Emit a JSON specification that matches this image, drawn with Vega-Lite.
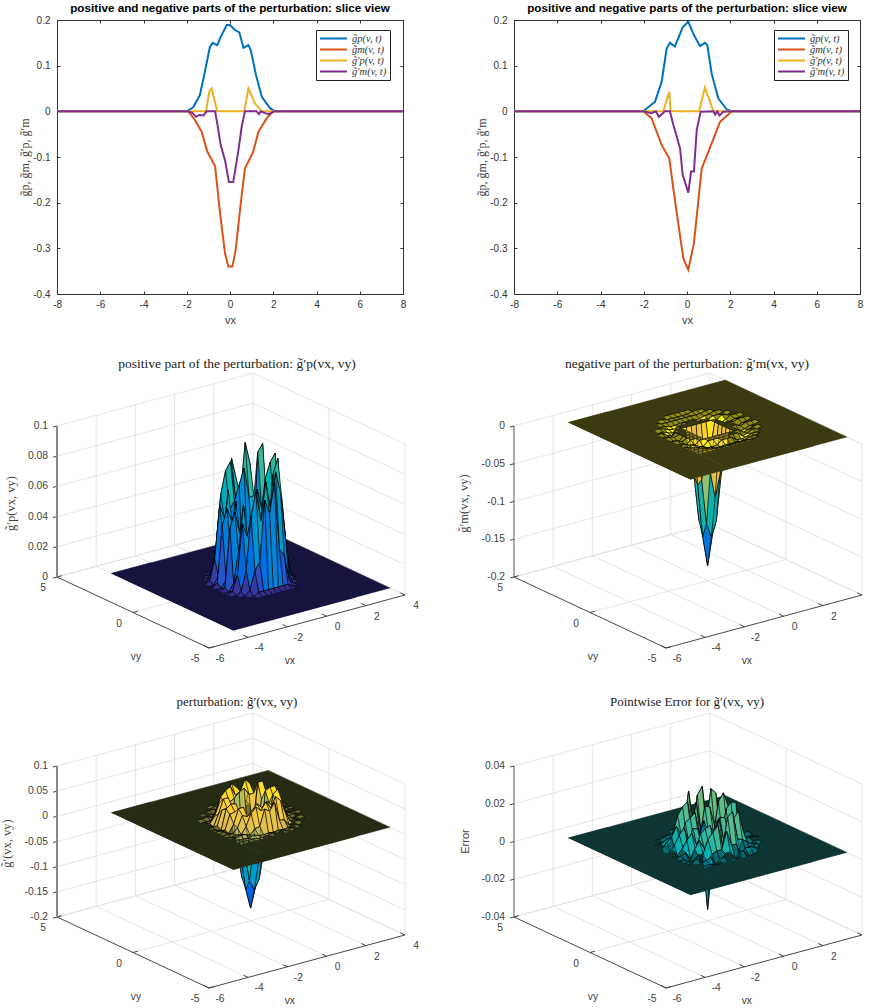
{"$schema":"https://vega.github.io/schema/vega-lite/v6.json","padding":{"left":0,"top":3,"right":0,"bottom":0},"background":"white","config":{"view":{"stroke":null},"text":{"font":"Liberation Sans"}},
"resolve":{"scale":{"fill":"independent","stroke":"independent","color":"independent"}},
"datasets":{
"sl":[{"s":"p","vx":-8,"v":0},{"s":"p","vx":-2,"v":0},{"s":"p","vx":-1.7,"v":0.009},{"s":"p","vx":-1.39,"v":0.036},{"s":"p","vx":-1.16,"v":0.087},{"s":"p","vx":-0.93,"v":0.141},{"s":"p","vx":-0.8,"v":0.15},{"s":"p","vx":-0.59,"v":0.145},{"s":"p","vx":-0.43,"v":0.163},{"s":"p","vx":-0.15,"v":0.189},{"s":"p","vx":0,"v":0.189},{"s":"p","vx":0.23,"v":0.178},{"s":"p","vx":0.43,"v":0.173},{"s":"p","vx":0.62,"v":0.139},{"s":"p","vx":0.85,"v":0.145},{"s":"p","vx":0.96,"v":0.134},{"s":"p","vx":1.2,"v":0.08},{"s":"p","vx":1.47,"v":0.032},{"s":"p","vx":1.85,"v":0.007},{"s":"p","vx":2.08,"v":0},{"s":"p","vx":8,"v":0},
{"s":"m","vx":-8,"v":0},{"s":"m","vx":-1.93,"v":0},{"s":"m","vx":-1.62,"v":-0.019},{"s":"m","vx":-1.31,"v":-0.045},{"s":"m","vx":-1.05,"v":-0.088},{"s":"m","vx":-0.69,"v":-0.12},{"s":"m","vx":-0.46,"v":-0.223},{"s":"m","vx":-0.23,"v":-0.311},{"s":"m","vx":-0.08,"v":-0.34},{"s":"m","vx":0.11,"v":-0.34},{"s":"m","vx":0.26,"v":-0.304},{"s":"m","vx":0.49,"v":-0.205},{"s":"m","vx":0.69,"v":-0.125},{"s":"m","vx":1.08,"v":-0.088},{"s":"m","vx":1.31,"v":-0.045},{"s":"m","vx":1.7,"v":-0.015},{"s":"m","vx":2,"v":0},{"s":"m","vx":8,"v":0},
{"s":"pp","vx":-8,"v":0},{"s":"pp","vx":-1.11,"v":0},{"s":"pp","vx":-0.96,"v":0.043},{"s":"pp","vx":-0.85,"v":0.05},{"s":"pp","vx":-0.59,"v":0},{"s":"pp","vx":0.66,"v":0},{"s":"pp","vx":0.85,"v":0.05},{"s":"pp","vx":1.16,"v":0.017},{"s":"pp","vx":1.47,"v":0},{"s":"pp","vx":8,"v":0},
{"s":"mp","vx":-8,"v":0},{"s":"mp","vx":-1.93,"v":0},{"s":"mp","vx":-1.73,"v":-0.004},{"s":"mp","vx":-1.57,"v":-0.012},{"s":"mp","vx":-1.42,"v":-0.008},{"s":"mp","vx":-1.23,"v":-0.009},{"s":"mp","vx":-1.08,"v":0},{"s":"mp","vx":-0.69,"v":0},{"s":"mp","vx":-0.59,"v":-0.026},{"s":"mp","vx":-0.43,"v":-0.074},{"s":"mp","vx":-0.23,"v":-0.107},{"s":"mp","vx":-0.05,"v":-0.155},{"s":"mp","vx":0.15,"v":-0.155},{"s":"mp","vx":0.39,"v":-0.085},{"s":"mp","vx":0.54,"v":-0.034},{"s":"mp","vx":0.69,"v":0},{"s":"mp","vx":1.23,"v":0},{"s":"mp","vx":1.34,"v":-0.006},{"s":"mp","vx":1.42,"v":0},{"s":"mp","vx":1.62,"v":-0.004},{"s":"mp","vx":1.8,"v":-0.006},{"s":"mp","vx":2.04,"v":0},{"s":"mp","vx":8,"v":0}],
"sr":[{"s":"p","vx":-8,"v":0},{"s":"p","vx":-2.02,"v":0},{"s":"p","vx":-1.48,"v":0.021},{"s":"p","vx":-1.17,"v":0.065},{"s":"p","vx":-0.94,"v":0.138},{"s":"p","vx":-0.79,"v":0.15},{"s":"p","vx":-0.56,"v":0.142},{"s":"p","vx":-0.2,"v":0.184},{"s":"p","vx":0.06,"v":0.196},{"s":"p","vx":0.32,"v":0.167},{"s":"p","vx":0.6,"v":0.143},{"s":"p","vx":0.83,"v":0.15},{"s":"p","vx":0.94,"v":0.145},{"s":"p","vx":1.14,"v":0.083},{"s":"p","vx":1.45,"v":0.028},{"s":"p","vx":1.84,"v":0.004},{"s":"p","vx":2.07,"v":0},{"s":"p","vx":8,"v":0},
{"s":"m","vx":-8,"v":0},{"s":"m","vx":-2.02,"v":0},{"s":"m","vx":-1.64,"v":-0.015},{"s":"m","vx":-1.17,"v":-0.074},{"s":"m","vx":-0.82,"v":-0.103},{"s":"m","vx":-0.56,"v":-0.194},{"s":"m","vx":-0.17,"v":-0.322},{"s":"m","vx":0.06,"v":-0.347},{"s":"m","vx":0.32,"v":-0.289},{"s":"m","vx":0.68,"v":-0.125},{"s":"m","vx":0.99,"v":-0.088},{"s":"m","vx":1.53,"v":-0.023},{"s":"m","vx":2.07,"v":0},{"s":"m","vx":8,"v":0},
{"s":"pp","vx":-8,"v":0},{"s":"pp","vx":-1.1,"v":0},{"s":"pp","vx":-0.82,"v":0.043},{"s":"pp","vx":-0.76,"v":0},{"s":"pp","vx":0.56,"v":0},{"s":"pp","vx":0.83,"v":0.052},{"s":"pp","vx":1.22,"v":0},{"s":"pp","vx":8,"v":0},
{"s":"mp","vx":-8,"v":0},{"s":"mp","vx":-2.02,"v":0},{"s":"mp","vx":-1.64,"v":-0.004},{"s":"mp","vx":-1.44,"v":0},{"s":"mp","vx":-1.3,"v":-0.012},{"s":"mp","vx":-1.02,"v":0},{"s":"mp","vx":-0.79,"v":0},{"s":"mp","vx":-0.63,"v":-0.03},{"s":"mp","vx":-0.32,"v":-0.081},{"s":"mp","vx":-0.2,"v":-0.139},{"s":"mp","vx":0.06,"v":-0.178},{"s":"mp","vx":0.19,"v":-0.132},{"s":"mp","vx":0.32,"v":-0.132},{"s":"mp","vx":0.45,"v":-0.041},{"s":"mp","vx":0.63,"v":-0.001},{"s":"mp","vx":1.22,"v":0},{"s":"mp","vx":1.3,"v":-0.007},{"s":"mp","vx":1.4,"v":0},{"s":"mp","vx":1.5,"v":-0.009},{"s":"mp","vx":1.68,"v":-0.001},{"s":"mp","vx":2.07,"v":0},{"s":"mp","vx":8,"v":0}],
"frame":[{"t":"g","x":-4,"y":5,"x2":-4,"y2":5,"h2":1},{"t":"g","x":-2,"y":5,"x2":-2,"y2":5,"h2":1},{"t":"g","x":0,"y":5,"x2":0,"y2":5,"h2":1},{"t":"g","x":2,"y":5,"x2":2,"y2":5,"h2":1},{"t":"g","x":4,"y":5,"x2":4,"y2":5,"h2":1},{"t":"g","x":4,"y":0,"x2":4,"y2":0,"h2":1},{"t":"g","x":4,"y":-5,"x2":4,"y2":-5,"h2":1},{"t":"g","x":-4,"y":5,"x2":-4,"y2":-5},{"t":"g","x":-2,"y":5,"x2":-2,"y2":-5},{"t":"g","x":0,"y":5,"x2":0,"y2":-5},{"t":"g","x":2,"y":5,"x2":2,"y2":-5},{"t":"g","x":4,"y":5,"x2":4,"y2":-5},{"t":"g","x":-6,"y":5,"x2":4,"y2":5},{"t":"g","x":-6,"y":0,"x2":4,"y2":0},{"t":"a","x":-6,"y":5,"x2":-6,"y2":-5},{"t":"a","x":-6,"y":-5,"x2":4,"y2":-5},{"t":"a","x":-6,"y":-5,"x2":-6,"y2":-4.7},{"t":"a","x":-4,"y":-5,"x2":-4,"y2":-4.7},{"t":"a","x":-2,"y":-5,"x2":-2,"y2":-4.7},{"t":"a","x":0,"y":-5,"x2":0,"y2":-4.7},{"t":"a","x":2,"y":-5,"x2":2,"y2":-4.7},{"t":"a","x":4,"y":-5,"x2":4,"y2":-4.7},{"t":"a","x":-6,"y":5,"x2":-5.75,"y2":5},{"t":"a","x":-6,"y":0,"x2":-5.75,"y2":0},{"t":"a","x":-6,"y":-5,"x2":-5.75,"y2":-5},{"t":"z","x":-6,"y":5,"x2":-6,"y2":5,"h2":1}],
"zt":[{"q":"p","h":0,"l":"0"},{"q":"p","h":0.2,"l":"0.02"},{"q":"p","h":0.4,"l":"0.04"},{"q":"p","h":0.6,"l":"0.06"},{"q":"p","h":0.8,"l":"0.08"},{"q":"p","h":1,"l":"0.1"},{"q":"m","h":1,"l":"0"},{"q":"m","h":0.75,"l":"-0.05"},{"q":"m","h":0.5,"l":"-0.1"},{"q":"m","h":0.25,"l":"-0.15"},{"q":"m","h":0,"l":"-0.2"},{"q":"g","h":0,"l":"-0.2"},{"q":"g","h":0.1667,"l":"-0.15"},{"q":"g","h":0.3333,"l":"-0.1"},{"q":"g","h":0.5,"l":"-0.05"},{"q":"g","h":0.6667,"l":"0"},{"q":"g","h":0.8333,"l":"0.05"},{"q":"g","h":1,"l":"0.1"},{"q":"e","h":0,"l":"-0.04"},{"q":"e","h":0.25,"l":"-0.02"},{"q":"e","h":0.5,"l":"0"},{"q":"e","h":0.75,"l":"0.02"},{"q":"e","h":1,"l":"0.04"}],
"lab":[{"a":"x","x":-6,"y":-5,"t":"-6"},{"a":"x","x":-4,"y":-5,"t":"-4"},{"a":"x","x":-2,"y":-5,"t":"-2"},{"a":"x","x":0,"y":-5,"t":"0"},{"a":"x","x":2,"y":-5,"t":"2"},{"a":"x","x":4,"y":-5,"t":"4"},{"a":"y","x":-6,"y":5,"t":"5"},{"a":"y","x":-6,"y":0,"t":"0"},{"a":"y","x":-6,"y":-5,"t":"-5"},{"a":"x","x":-3.88,"y":-6.86,"t":"vx"},{"a":"y","x":-7.77,"y":-3.4,"t":"vy"}],
"plane":[{"s":0,"g":"A","n":0,"x":-4,"y":-4},{"s":0,"g":"A","n":1,"x":4,"y":-4},{"s":0,"g":"A","n":2,"x":4,"y":4},{"s":0,"g":"A","n":3,"x":-4,"y":4},{"s":1,"g":"B","n":0,"x":-4,"y":-4},{"s":1,"g":"B","n":1,"x":-2,"y":-4},{"s":1,"g":"B","n":2,"x":-2,"y":4},{"s":1,"g":"B","n":3,"x":-4,"y":4},{"s":1,"g":"C","n":0,"x":-2,"y":-4},{"s":1,"g":"C","n":1,"x":2.25,"y":-4},{"s":1,"g":"C","n":2,"x":2.25,"y":-2},{"s":1,"g":"C","n":3,"x":-2,"y":-2}],
"surf":[{"k":1610,"m":-0.002,"g":-0.002,"e":0.002},{"k":1608,"m":-0.002,"g":0.001,"e":-0.002},{"k":1606,"m":-0.002,"g":-0.001,"e":0.001},
{"k":1512,"m":-0.002,"g":-0.002,"e":0.002},{"k":1510,"m":-0.002,"g":0.002,"e":-0.002},{"k":1508,"m":-0.003,"g":-0.002,"e":0.002},{"k":1506,"m":-0.002,"g":0.002,"e":0.001},{"k":1504,"m":-0.002,"g":-0.002,"e":-0.002},
{"k":1413,"m":-0.002,"g":-0.002,"e":0.002},{"k":1411,"p":0.002,"m":-0.004,"g":-0.002,"e":0.003},{"k":1410,"m":-0.005,"g":-0.005,"e":-0.002},{"k":1409,"p":0.003,"m":-0.002,"g":0.001,"e":0.004},{"k":1408,"m":-0.006,"g":-0.005,"e":-0.003},{"k":1407,"p":0.002,"m":-0.003,"g":-0.001,"e":0.003},{"k":1406,"m":-0.005,"g":-0.004,"e":0.002},{"k":1405,"p":0.002,"m":-0.003,"g":-0.001,"e":-0.002},{"k":1403,"m":-0.002,"g":0.002,"e":0.002},
{"k":1314,"m":-0.002,"g":-0.002,"e":0.001},{"k":1313,"m":-0.002,"g":0.002,"e":-0.002},{"k":1312,"p":0.002,"m":-0.005,"g":-0.003,"e":0.003},{"k":1311,"p":0.02,"m":-0.007,"g":0.01,"e":0.007},{"k":1310,"p":0.03,"m":-0.004,"g":0.02,"e":-0.004},{"k":1309,"p":0.06,"g":0.045,"e":0.016},{"k":1308,"p":0.08,"g":0.055,"e":0.004},{"k":1307,"p":0.055,"g":0.04,"e":0.02},{"k":1306,"p":0.025,"m":-0.006,"g":0.015,"e":-0.003},{"k":1305,"p":0.02,"m":-0.005,"g":0.01,"e":0.006},{"k":1304,"p":0.002,"m":-0.004,"g":-0.002,"e":0.002},{"k":1303,"m":-0.002,"g":0.002,"e":-0.002},{"k":1302,"m":-0.002,"g":-0.002,"e":0.001},
{"k":1215,"m":-0.002,"g":0.002,"e":0.002},{"k":1214,"m":-0.003,"g":-0.002,"e":-0.001},{"k":1213,"p":0.003,"m":-0.005,"g":-0.002,"e":0.003},{"k":1212,"p":0.025,"m":-0.007,"g":0.015,"e":0.008},{"k":1211,"p":0.06,"g":0.05,"e":0.022},{"k":1210,"p":0.085,"g":0.06,"e":0.003},{"k":1209,"p":0.05,"g":0.04,"e":0.024},{"k":1208,"p":0.075,"g":0.055,"e":0.006},{"k":1207,"p":0.05,"g":0.035,"e":0.021},{"k":1206,"p":0.08,"g":0.058,"e":-0.002},{"k":1205,"p":0.055,"g":0.04,"e":0.018},{"k":1204,"p":0.03,"m":-0.006,"g":0.018,"e":0.004},{"k":1203,"p":0.003,"m":-0.005,"g":-0.002,"e":-0.002},{"k":1202,"m":-0.002,"g":0.002,"e":0.002},{"k":1201,"m":-0.002,"g":-0.002,"e":-0.001},
{"k":1115,"m":-0.002,"g":-0.002,"e":0.001},{"k":1114,"p":0.002,"m":-0.005,"g":-0.003,"e":-0.002},{"k":1113,"p":0.02,"m":-0.006,"g":0.012,"e":0.006},{"k":1112,"p":0.07,"g":0.05,"e":0.004},{"k":1111,"p":0.05,"g":0.035,"e":0.025},{"k":1110,"p":0.08,"g":0.06,"e":0.006},{"k":1109,"p":0.045,"g":0.03,"e":0.02},{"k":1108,"p":0.065,"g":0.05,"e":0.003},{"k":1107,"p":0.04,"g":0.03,"e":0.018},{"k":1106,"p":0.07,"g":0.05,"e":0.002},{"k":1105,"p":0.045,"g":0.035,"e":0.015},{"k":1104,"p":0.06,"g":0.045,"e":0.005},{"k":1103,"p":0.02,"m":-0.006,"g":0.01,"e":-0.003},{"k":1102,"p":0.002,"m":-0.004,"g":-0.002,"e":0.002},{"k":1101,"m":-0.002,"g":0.002,"e":-0.001},
{"k":1016,"m":-0.002,"g":-0.001,"e":0.001},{"k":1015,"m":-0.002,"g":0.002,"e":-0.002},{"k":1014,"p":0.002,"m":-0.005,"g":-0.003,"e":0.003},{"k":1013,"p":0.03,"m":-0.005,"g":0.02,"e":0.007},{"k":1012,"p":0.085,"g":0.062,"e":0.026},{"k":1011,"p":0.05,"g":0.035,"e":0.005},{"k":1010,"p":0.008,"m":-0.04,"g":-0.03,"e":0.017},{"k":1009,"m":-0.06,"g":-0.055,"e":0.004},{"k":1008,"m":-0.07,"g":-0.065,"e":0.012},{"k":1007,"m":-0.06,"g":-0.055,"e":0.002},{"k":1006,"p":0.008,"m":-0.04,"g":-0.03,"e":0.015},{"k":1005,"p":0.05,"g":0.035,"e":0.005},{"k":1004,"p":0.075,"g":0.055,"e":0.02},{"k":1003,"p":0.025,"m":-0.005,"g":0.012,"e":0.004},{"k":1002,"p":0.002,"m":-0.005,"g":-0.003,"e":-0.002},{"k":1001,"m":-0.002,"g":-0.002,"e":0.002},{"k":1000,"m":-0.002,"g":0.001,"e":-0.001},
{"k":916,"m":-0.002,"g":0.002,"e":-0.001},{"k":915,"m":-0.002,"g":-0.002,"e":0.002},{"k":914,"p":0.003,"m":-0.004,"g":-0.002,"e":0.002},{"k":913,"p":0.06,"g":0.045,"e":0.005},{"k":912,"p":0.05,"g":0.04,"e":0.022},{"k":911,"p":0.07,"g":0.05,"e":0.003},{"k":910,"p":0.006,"m":-0.05,"g":-0.04,"e":0.018},{"k":909,"m":-0.12,"g":-0.115,"e":0.004},{"k":908,"m":-0.14,"g":-0.135,"e":-0.008},{"k":907,"m":-0.12,"g":-0.115,"e":0.006},{"k":906,"p":0.006,"m":-0.055,"g":-0.045,"e":0.016},{"k":905,"p":0.06,"g":0.045,"e":0.004},{"k":904,"p":0.05,"g":0.035,"e":0.018},{"k":903,"p":0.07,"g":0.05,"e":0.004},{"k":902,"p":0.002,"m":-0.004,"g":-0.002,"e":-0.002},{"k":901,"m":-0.002,"g":0.002,"e":0.002},{"k":900,"m":-0.002,"g":-0.002,"e":-0.001},
{"k":816,"m":-0.002,"g":-0.001,"e":0.002},{"k":815,"m":-0.002,"g":0.002,"e":-0.002},{"k":814,"p":0.002,"m":-0.005,"g":-0.003,"e":0.003},{"k":813,"p":0.075,"g":0.055,"e":0.024},{"k":812,"p":0.05,"g":0.035,"e":0.005},{"k":811,"p":0.06,"g":0.045,"e":0.02},{"k":810,"m":-0.085,"g":-0.08,"e":0.003},{"k":809,"m":-0.14,"g":-0.135,"e":0.012},{"k":808,"m":-0.18,"g":-0.175,"e":-0.034},{"k":807,"m":-0.14,"g":-0.135,"e":0.01},{"k":806,"m":-0.085,"g":-0.08,"e":0.002},{"k":805,"p":0.05,"g":0.035,"e":0.017},{"k":804,"p":0.07,"g":0.05,"e":0.003},{"k":803,"p":0.05,"g":0.035,"e":0.012},{"k":802,"p":0.002,"m":-0.005,"g":-0.003,"e":0.002},{"k":801,"m":-0.002,"g":-0.002,"e":-0.002},{"k":800,"m":-0.002,"g":0.002,"e":0.001},
{"k":716,"m":-0.002,"g":0.002,"e":-0.001},{"k":715,"m":-0.002,"g":-0.002,"e":0.002},{"k":714,"p":0.003,"m":-0.004,"g":-0.002,"e":-0.002},{"k":713,"p":0.05,"g":0.035,"e":0.006},{"k":712,"p":0.075,"g":0.055,"e":0.02},{"k":711,"p":0.05,"g":0.035,"e":0.004},{"k":710,"p":0.005,"m":-0.055,"g":-0.045,"e":0.016},{"k":709,"m":-0.12,"g":-0.115,"e":0.003},{"k":708,"m":-0.14,"g":-0.135,"e":-0.006},{"k":707,"m":-0.12,"g":-0.115,"e":0.005},{"k":706,"p":0.006,"m":-0.05,"g":-0.04,"e":0.013},{"k":705,"p":0.065,"g":0.045,"e":0.003},{"k":704,"p":0.045,"g":0.035,"e":0.015},{"k":703,"p":0.06,"g":0.042,"e":0.003},{"k":702,"p":0.002,"m":-0.004,"g":-0.002,"e":0.002},{"k":701,"m":-0.002,"g":0.002,"e":-0.002},{"k":700,"m":-0.002,"g":-0.002,"e":0.001},
{"k":616,"m":-0.002,"g":-0.001,"e":0.001},{"k":615,"m":-0.002,"g":0.002,"e":-0.002},{"k":614,"p":0.002,"m":-0.005,"g":-0.003,"e":0.003},{"k":613,"p":0.025,"m":-0.005,"g":0.015,"e":0.006},{"k":612,"p":0.07,"g":0.05,"e":0.018},{"k":611,"p":0.045,"g":0.03,"e":0.004},{"k":610,"p":0.007,"m":-0.04,"g":-0.03,"e":0.014},{"k":609,"m":-0.06,"g":-0.055,"e":0.003},{"k":608,"m":-0.07,"g":-0.065,"e":0.01},{"k":607,"m":-0.06,"g":-0.055,"e":0.002},{"k":606,"p":0.007,"m":-0.04,"g":-0.03,"e":0.012},{"k":605,"p":0.05,"g":0.035,"e":0.003},{"k":604,"p":0.065,"g":0.045,"e":0.012},{"k":603,"p":0.02,"m":-0.005,"g":0.01,"e":0.003},{"k":602,"p":0.002,"m":-0.005,"g":-0.003,"e":-0.002},{"k":601,"m":-0.002,"g":-0.002,"e":0.002},{"k":600,"m":-0.002,"g":0.001,"e":-0.001},
{"k":515,"m":-0.002,"g":0.002,"e":0.001},{"k":514,"p":0.002,"m":-0.005,"g":-0.003,"e":0.002},{"k":513,"p":0.02,"m":-0.006,"g":0.012,"e":0.005},{"k":512,"p":0.055,"g":0.04,"e":0.014},{"k":511,"p":0.04,"g":0.028,"e":0.004},{"k":510,"p":0.06,"g":0.045,"e":0.012},{"k":509,"p":0.04,"g":0.03,"e":0.002},{"k":508,"p":0.055,"g":0.04,"e":0.011},{"k":507,"p":0.035,"g":0.025,"e":0.003},{"k":506,"p":0.055,"g":0.04,"e":0.01},{"k":505,"p":0.035,"g":0.025,"e":0.003},{"k":504,"p":0.05,"g":0.035,"e":0.009},{"k":503,"p":0.015,"m":-0.006,"g":0.008,"e":0.002},{"k":502,"p":0.002,"m":-0.004,"g":-0.002,"e":-0.002},{"k":501,"m":-0.002,"g":-0.002,"e":0.001},{"k":500},
{"k":415,"m":-0.002,"g":-0.002,"e":-0.001},{"k":414,"m":-0.003,"g":0.002,"e":0.002},{"k":413,"p":0.003,"m":-0.005,"g":-0.002,"e":-0.002},{"k":412,"p":0.02,"m":-0.007,"g":0.012,"e":0.005},{"k":411,"p":0.05,"g":0.035,"e":0.01},{"k":410,"p":0.03,"g":0.045,"e":0.003},{"k":409,"p":0.05,"g":0.03,"e":0.011},{"k":408,"p":0.02,"g":0.042,"e":0.002},{"k":407,"p":0.05,"g":0.03,"e":0.01},{"k":406,"p":0.025,"g":0.04,"e":0.002},{"k":405,"p":0.045,"g":0.03,"e":0.008},{"k":404,"p":0.015,"m":-0.006,"g":0.012,"e":0.002},{"k":403,"p":0.003,"m":-0.005,"g":-0.002,"e":-0.002},{"k":402,"m":-0.002,"g":0.002,"e":0.002},{"k":401,"m":-0.002,"g":-0.002,"e":-0.001},{"k":400},
{"k":314,"m":-0.002,"g":-0.002,"e":0.001},{"k":313,"m":-0.002,"g":0.002,"e":-0.002},{"k":312,"p":0.002,"m":-0.005,"g":-0.003,"e":0.003},{"k":311,"p":0.015,"m":-0.006,"g":0.01,"e":0.005},{"k":310,"p":0.005,"g":0.018,"e":-0.003},{"k":309,"p":0.04,"g":0.03,"e":0.008},{"k":308,"p":0.005,"g":0.035,"e":0.002},{"k":307,"p":0.04,"g":0.028,"e":0.007},{"k":306,"p":0.005,"g":0.012,"e":-0.002},{"k":305,"p":0.012,"m":-0.005,"g":0.008,"e":0.004},{"k":304,"p":0.002,"m":-0.004,"g":-0.002,"e":0.002},{"k":303,"m":-0.002,"g":0.002,"e":-0.002},{"k":302,"m":-0.002,"g":-0.002,"e":0.001},{"k":301},{"k":300},
{"k":212,"m":-0.002,"g":-0.002,"e":0.002},{"k":211,"p":0.002,"m":-0.004,"g":-0.002,"e":0.003},{"k":210,"m":-0.005,"g":-0.005,"e":-0.002},{"k":209,"p":0.003,"m":-0.002,"g":0.001,"e":0.003},{"k":208,"m":-0.006,"g":-0.005,"e":-0.003},{"k":207,"p":0.002,"m":-0.003,"g":-0.001,"e":0.003},{"k":206,"m":-0.005,"g":-0.004,"e":0.002},{"k":205,"p":0.002,"m":-0.003,"g":-0.001,"e":-0.002},{"k":204},{"k":203,"m":-0.002,"g":0.002,"e":0.002},{"k":202},{"k":201},{"k":200},
{"k":112,"m":-0.002,"g":-0.002,"e":0.002},{"k":110,"m":-0.002,"g":0.002,"e":-0.002},{"k":108,"m":-0.003,"g":-0.002,"e":0.002},{"k":107},{"k":106,"m":-0.002,"g":0.002,"e":0.001},{"k":105},{"k":104,"m":-0.002,"g":-0.002,"e":-0.002},{"k":103},{"k":102},{"k":101},{"k":100},
{"k":10,"m":-0.002,"g":-0.002,"e":0.002},{"k":8,"m":-0.002,"g":0.001,"e":-0.002},{"k":7},{"k":6,"m":-0.002,"g":-0.001,"e":0.001},{"k":5},{"k":4},{"k":3},{"k":2},{"k":1},{"k":0}]
},
"data":{"name":"surf"},
"transform":[{"calculate":"(floor(datum.k/100)-8)/4","as":"x"},{"calculate":"(datum.k%100-8)/4","as":"y"},{"calculate":"datum.k+100","as":"k1"},{"calculate":"datum.k+1","as":"k2"},{"calculate":"datum.k+101","as":"k3"},
{"lookup":"k1","from":{"data":{"name":"surf"},"key":"k","fields":["p","m","g","e"]},"as":["p1","m1","g1","e1"]},
{"lookup":"k2","from":{"data":{"name":"surf"},"key":"k","fields":["p","m","g","e"]},"as":["p3","m3","g3","e3"]},
{"lookup":"k3","from":{"data":{"name":"surf"},"key":"k","fields":["p","m","g","e"]},"as":["p2","m2","g2","e2"]},
{"calculate":"[0,1,2,3]","as":"n"},{"flatten":["n"]},
{"calculate":"datum.x+((datum.n==1||datum.n==2)?0.25:0)","as":"cx"},{"calculate":"datum.y+(datum.n>=2?0.25:0)","as":"cy"},
{"calculate":"19.6*(datum.cx+6)+15.2*(5-datum.cy)","as":"X"},{"calculate":"207-5.3*(datum.cx+6)+7.1*(5-datum.cy)","as":"Y0"},
{"calculate":"[datum.p,datum.p1,datum.p2,datum.p3][datum.n]||0","as":"zp"},{"calculate":"[datum.m,datum.m1,datum.m2,datum.m3][datum.n]||0","as":"zm"},{"calculate":"[datum.g,datum.g1,datum.g2,datum.g3][datum.n]||0","as":"zg"},{"calculate":"[datum.e,datum.e1,datum.e2,datum.e3][datum.n]||0","as":"ze"},
{"calculate":"((datum.p||0)+(datum.p1||0)+(datum.p2||0)+(datum.p3||0))/4","as":"mp"},{"calculate":"((datum.m||0)+(datum.m1||0)+(datum.m2||0)+(datum.m3||0))/4","as":"mm"},{"calculate":"((datum.g||0)+(datum.g1||0)+(datum.g2||0)+(datum.g3||0))/4","as":"mg"},{"calculate":"((datum.e||0)+(datum.e1||0)+(datum.e2||0)+(datum.e3||0))/4","as":"me"}],
"bounds":"flush","columns":2,"spacing":{"row":60,"column":111},
"concat":[
{"width":346,"height":274,"data":{"name":"sl"},"title":{"text":"positive and negative parts of the perturbation: slice view","font":"Liberation Sans","fontSize":11.7,"fontWeight":"bold","color":"black","offset":0},"resolve":{"axis":{"x":"independent","y":"independent"}},
"layer":[{"mark":{"type":"line","strokeWidth":2,"clip":true},"encoding":{"x":{"field":"vx","type":"quantitative","scale":{"domain":[-8,8],"nice":false},"axis":{"values":[-8,-6,-4,-2,0,2,4,6,8],"labelExpr":"datum.value+''","tickSize":-3,"labelPadding":8,"grid":false,"title":"vx","titleFont":"Liberation Sans","titleFontWeight":"normal","titleFontSize":11,"titleColor":"#404040","titlePadding":5,"labelFont":"Liberation Sans","labelFontSize":10,"labelColor":"#333","domainColor":"#333","tickColor":"#333","labelFlush":false}},"y":{"field":"v","type":"quantitative","scale":{"domain":[-0.4,0.2],"nice":false},"axis":{"values":[-0.4,-0.3,-0.2,-0.1,0,0.1,0.2],"labelExpr":"datum.value+''","tickSize":-3,"labelPadding":10,"grid":false,"title":"g̃p, g̃m, g̃′p, g̃′m","titleFont":"Liberation Serif","titleFontWeight":"normal","titleFontSize":12,"titleColor":"#404040","titlePadding":1,"labelFont":"Liberation Sans","labelFontSize":10,"labelColor":"#333","domainColor":"#333","tickColor":"#333"}},"color":{"field":"s","type":"nominal","scale":{"domain":["p","m","pp","mp"],"range":["#0072BD","#D95319","#EDB120","#7E2F8E"]},"legend":{"orient":"none","legendX":259,"legendY":10,"title":null,"symbolType":"stroke","symbolStrokeWidth":2,"symbolSize":729,"clipHeight":11,"labelFont":"Liberation Serif","labelFontStyle":"italic","labelFontSize":10.5,"labelColor":"#333","rowPadding":0,"padding":3,"strokeColor":"#222","fillColor":"white","labelExpr":"{'p':'g̃p(v, t)','m':'g̃m(v, t)','pp':'g̃′p(v, t)','mp':'g̃′m(v, t)'}[datum.label]"}}}},
{"mark":{"type":"line","opacity":0},"encoding":{"x":{"field":"vx","type":"quantitative","axis":{"orient":"top","values":[-8,-6,-4,-2,0,2,4,6,8],"labels":false,"title":null,"tickSize":-3,"grid":false,"domainColor":"#333","tickColor":"#333"}},"y":{"field":"v","type":"quantitative","axis":{"orient":"right","values":[-0.4,-0.3,-0.2,-0.1,0,0.1,0.2],"labels":false,"title":null,"tickSize":-3,"grid":false,"domainColor":"#333","tickColor":"#333"}}}}]},
{"width":346,"height":274,"data":{"name":"sr"},"title":{"text":"positive and negative parts of the perturbation: slice view","font":"Liberation Sans","fontSize":11.7,"fontWeight":"bold","color":"black","offset":0},"resolve":{"axis":{"x":"independent","y":"independent"}},
"layer":[{"mark":{"type":"line","strokeWidth":2,"clip":true},"encoding":{"x":{"field":"vx","type":"quantitative","scale":{"domain":[-8,8],"nice":false},"axis":{"values":[-8,-6,-4,-2,0,2,4,6,8],"labelExpr":"datum.value+''","tickSize":-3,"labelPadding":8,"grid":false,"title":"vx","titleFont":"Liberation Sans","titleFontWeight":"normal","titleFontSize":11,"titleColor":"#404040","titlePadding":5,"labelFont":"Liberation Sans","labelFontSize":10,"labelColor":"#333","domainColor":"#333","tickColor":"#333","labelFlush":false}},"y":{"field":"v","type":"quantitative","scale":{"domain":[-0.4,0.2],"nice":false},"axis":{"values":[-0.4,-0.3,-0.2,-0.1,0,0.1,0.2],"labelExpr":"datum.value+''","tickSize":-3,"labelPadding":10,"grid":false,"title":"g̃p, g̃m, g̃′p, g̃′m","titleFont":"Liberation Serif","titleFontWeight":"normal","titleFontSize":12,"titleColor":"#404040","titlePadding":1,"labelFont":"Liberation Sans","labelFontSize":10,"labelColor":"#333","domainColor":"#333","tickColor":"#333"}},"color":{"field":"s","type":"nominal","scale":{"domain":["p","m","pp","mp"],"range":["#0072BD","#D95319","#EDB120","#7E2F8E"]},"legend":{"orient":"none","legendX":260,"legendY":10,"title":null,"symbolType":"stroke","symbolStrokeWidth":2,"symbolSize":729,"clipHeight":11,"labelFont":"Liberation Serif","labelFontStyle":"italic","labelFontSize":10.5,"labelColor":"#333","rowPadding":0,"padding":3,"strokeColor":"#222","fillColor":"white","labelExpr":"{'p':'g̃p(v, t)','m':'g̃m(v, t)','pp':'g̃′p(v, t)','mp':'g̃′m(v, t)'}[datum.label]"}}}},
{"mark":{"type":"line","opacity":0},"encoding":{"x":{"field":"vx","type":"quantitative","axis":{"orient":"top","values":[-8,-6,-4,-2,0,2,4,6,8],"labels":false,"title":null,"tickSize":-3,"grid":false,"domainColor":"#333","tickColor":"#333"}},"y":{"field":"v","type":"quantitative","axis":{"orient":"right","values":[-0.4,-0.3,-0.2,-0.1,0,0.1,0.2],"labels":false,"title":null,"tickSize":-3,"grid":false,"domainColor":"#333","tickColor":"#333"}}}}]},
{"width":346,"height":296,"title":{"text":"positive part of the perturbation: g̃′p(vx, vy)","font":"Liberation Serif","fontSize":13.5,"fontWeight":"normal","color":"#222","dx":7,"offset":-16},
"encoding":{"x":{"field":"X","type":"quantitative","scale":{"domain":[0,346],"nice":false},"axis":null},"y":{"field":"Y","type":"quantitative","scale":{"domain":[280,-16],"nice":false},"axis":{"title":"g̃′p(vx, vy)","labels":false,"ticks":false,"domain":false,"grid":false,"titleX":-40,"titleY":149,"titleFont":"Liberation Serif","titleFontWeight":"normal","titleFontSize":12.5,"titleColor":"#444"}}},
"layer":[
{"data":{"name":"zt"},"transform":[{"filter":"datum.q=='p'"},{"calculate":"[0,1,2]","as":"w"},{"flatten":["w"]},{"calculate":"[0,196,0][datum.w]","as":"X"},{"calculate":"[196,348,-4][datum.w]","as":"X2"},{"calculate":"207-151*datum.h+[0,-53,0][datum.w]","as":"Y"},{"calculate":"207-151*datum.h+[-53,18,1][datum.w]","as":"Y2"}],"mark":{"type":"rule","strokeWidth":0.9},"encoding":{"x2":{"field":"X2"},"y2":{"field":"Y2"},"stroke":{"condition":{"test":"datum.w==2","value":"#333"},"value":"#e2e2e2"}}},
{"data":{"name":"frame"},"transform":[{"calculate":"19.6*(datum.x+6)+15.2*(5-datum.y)","as":"X"},{"calculate":"19.6*(datum.x2+6)+15.2*(5-datum.y2)","as":"X2"},{"calculate":"207-5.3*(datum.x+6)+7.1*(5-datum.y)-151*(datum.h||0)","as":"Y"},{"calculate":"207-5.3*(datum.x2+6)+7.1*(5-datum.y2)-151*(datum.h2||0)","as":"Y2"}],"mark":{"type":"rule"},"encoding":{"x2":{"field":"X2"},"y2":{"field":"Y2"},"stroke":{"field":"t","type":"nominal","scale":{"domain":["g","a","z"],"range":["#e2e2e2","#333","#888"]},"legend":null},"strokeWidth":{"condition":{"test":"datum.t=='z'","value":2},"value":0.9}}},
{"data":{"name":"plane"},"transform":[{"filter":"datum.s==0"},{"calculate":"19.6*(datum.x+6)+15.2*(5-datum.y)","as":"X"},{"calculate":"207-5.3*(datum.x+6)+7.1*(5-datum.y)","as":"Y"}],"mark":{"type":"line","fill":"#15143f","stroke":"#15143f","strokeWidth":0.5},"encoding":{"detail":{"field":"g"},"order":{"field":"n"}}},
{"transform":[{"calculate":"datum.Y0-datum.zp*1510","as":"Y"}],"mark":{"type":"line","strokeWidth":0.7},"encoding":{"detail":{"field":"k"},"order":{"field":"n"},"fill":{"condition":{"test":"datum.mp==0","value":"#15143f"},"field":"mp","type":"quantitative","legend":null,"scale":{"domain":[0,0.016,0.032,0.049,0.065,0.081,0.098,0.114,0.13],"range":["#352a87","#0363e1","#1485d4","#06a7c6","#38b99e","#92bf73","#d9ba56","#fcce2e","#f9fb0e"]}},"stroke":{"condition":{"test":"datum.mp==0","value":"#15143f"},"value":"black"}}},
{"data":{"name":"plane"},"transform":[{"filter":"datum.s==1"},{"calculate":"19.6*(datum.x+6)+15.2*(5-datum.y)","as":"X"},{"calculate":"207-5.3*(datum.x+6)+7.1*(5-datum.y)","as":"Y"}],"mark":{"type":"line","fill":"#15143f","stroke":"#15143f","strokeWidth":0.5},"encoding":{"detail":{"field":"g"},"order":{"field":"n"}}},
{"data":{"name":"zt"},"transform":[{"filter":"datum.q=='p'"},{"calculate":"-9","as":"X"},{"calculate":"207-151*datum.h","as":"Y"}],"mark":{"type":"text","align":"right","baseline":"middle","font":"Liberation Sans","fontSize":10.3,"color":"#404040"},"encoding":{"text":{"field":"l"}}},
{"data":{"name":"lab"},"transform":[{"calculate":"19.6*(datum.x+6)+15.2*(5-datum.y)+(datum.a=='x'?11:-14)","as":"X"},{"calculate":"218-5.3*(datum.x+6)+7.1*(5-datum.y)","as":"Y"}],"mark":{"type":"text","align":"center","baseline":"middle","font":"Liberation Sans","fontSize":10.3,"color":"#404040"},"encoding":{"text":{"field":"t"}}}
]},
{"width":346,"height":296,"title":{"text":"negative part of the perturbation: g̃′m(vx, vy)","font":"Liberation Serif","fontSize":13.5,"fontWeight":"normal","color":"#222","offset":-16},
"encoding":{"x":{"field":"X","type":"quantitative","scale":{"domain":[0,346],"nice":false},"axis":null},"y":{"field":"Y","type":"quantitative","scale":{"domain":[280,-16],"nice":false},"axis":{"title":"g̃′m(vx, vy)","labels":false,"ticks":false,"domain":false,"grid":false,"titleX":-44,"titleY":149,"titleFont":"Liberation Serif","titleFontWeight":"normal","titleFontSize":12.5,"titleColor":"#444"}}},
"layer":[
{"data":{"name":"zt"},"transform":[{"filter":"datum.q=='m'"},{"calculate":"[0,1,2]","as":"w"},{"flatten":["w"]},{"calculate":"[0,196,0][datum.w]","as":"X"},{"calculate":"[196,348,-4][datum.w]","as":"X2"},{"calculate":"207-151*datum.h+[0,-53,0][datum.w]","as":"Y"},{"calculate":"207-151*datum.h+[-53,18,1][datum.w]","as":"Y2"}],"mark":{"type":"rule","strokeWidth":0.9},"encoding":{"x2":{"field":"X2"},"y2":{"field":"Y2"},"stroke":{"condition":{"test":"datum.w==2","value":"#333"},"value":"#e2e2e2"}}},
{"data":{"name":"frame"},"transform":[{"calculate":"19.6*(datum.x+6)+15.2*(5-datum.y)","as":"X"},{"calculate":"19.6*(datum.x2+6)+15.2*(5-datum.y2)","as":"X2"},{"calculate":"207-5.3*(datum.x+6)+7.1*(5-datum.y)-151*(datum.h||0)","as":"Y"},{"calculate":"207-5.3*(datum.x2+6)+7.1*(5-datum.y2)-151*(datum.h2||0)","as":"Y2"}],"mark":{"type":"rule","strokeWidth":0.9},"encoding":{"x2":{"field":"X2"},"y2":{"field":"Y2"},"stroke":{"field":"t","type":"nominal","scale":{"domain":["g","a","z"],"range":["#e2e2e2","#333","#444"]},"legend":null}}},
{"data":{"name":"plane"},"transform":[{"filter":"datum.s==0"},{"calculate":"19.6*(datum.x+6)+15.2*(5-datum.y)","as":"X"},{"calculate":"56-5.3*(datum.x+6)+7.1*(5-datum.y)","as":"Y"}],"mark":{"type":"line","fill":"#3b3a10","stroke":"#3b3a10","strokeWidth":0.5},"encoding":{"detail":{"field":"g"},"order":{"field":"n"}}},
{"transform":[{"calculate":"datum.Y0-151-datum.zm*755","as":"Y"}],"mark":{"type":"line","strokeWidth":0.7},"encoding":{"detail":{"field":"k"},"order":{"field":"n"},"fillOpacity":{"condition":{"test":"abs(datum.mm)<0.004","value":0.45},"value":1},"fill":{"condition":{"test":"datum.mm==0","value":"#3b3a10"},"field":"mm","type":"quantitative","legend":null,"scale":{"domain":[-0.18,-0.1575,-0.135,-0.1125,-0.09,-0.0675,-0.045,-0.0225,0],"range":["#352a87","#0363e1","#1485d4","#06a7c6","#38b99e","#92bf73","#d9ba56","#fcce2e","#f9fb0e"]}},"stroke":{"condition":{"test":"datum.mm==0","value":"#3b3a10"},"value":"black"}}},
{"data":{"name":"plane"},"transform":[{"filter":"datum.s==1"},{"calculate":"19.6*(datum.x+6)+15.2*(5-datum.y)","as":"X"},{"calculate":"56-5.3*(datum.x+6)+7.1*(5-datum.y)","as":"Y"}],"mark":{"type":"line","fill":"#3b3a10","stroke":"#3b3a10","strokeWidth":0.5},"encoding":{"detail":{"field":"g"},"order":{"field":"n"}}},
{"data":{"name":"zt"},"transform":[{"filter":"datum.q=='m'"},{"calculate":"-9","as":"X"},{"calculate":"207-151*datum.h","as":"Y"}],"mark":{"type":"text","align":"right","baseline":"middle","font":"Liberation Sans","fontSize":10.3,"color":"#404040"},"encoding":{"text":{"field":"l"}}},
{"data":{"name":"lab"},"transform":[{"calculate":"19.6*(datum.x+6)+15.2*(5-datum.y)+(datum.a=='x'?11:-14)","as":"X"},{"calculate":"218-5.3*(datum.x+6)+7.1*(5-datum.y)","as":"Y"}],"mark":{"type":"text","align":"center","baseline":"middle","font":"Liberation Sans","fontSize":10.3,"color":"#404040"},"encoding":{"text":{"field":"t"}}}
]},
{"width":346,"height":280,"title":{"text":"perturbation: g̃′(vx, vy)","font":"Liberation Serif","fontSize":13,"fontWeight":"normal","color":"#222","dx":7,"offset":1},
"encoding":{"x":{"field":"X","type":"quantitative","scale":{"domain":[0,346],"nice":false},"axis":null},"y":{"field":"Y","type":"quantitative","scale":{"domain":[280,0],"nice":false},"axis":{"title":"g̃′(vx, vy)","labels":false,"ticks":false,"domain":false,"grid":false,"titleX":-44,"titleY":133,"titleFont":"Liberation Serif","titleFontWeight":"normal","titleFontSize":12.5,"titleColor":"#444"}}},
"layer":[
{"data":{"name":"zt"},"transform":[{"filter":"datum.q=='g'"},{"calculate":"[0,1,2]","as":"w"},{"flatten":["w"]},{"calculate":"[0,196,0][datum.w]","as":"X"},{"calculate":"[196,348,-4][datum.w]","as":"X2"},{"calculate":"207-151*datum.h+[0,-53,0][datum.w]","as":"Y"},{"calculate":"207-151*datum.h+[-53,18,1][datum.w]","as":"Y2"}],"mark":{"type":"rule","strokeWidth":0.9},"encoding":{"x2":{"field":"X2"},"y2":{"field":"Y2"},"stroke":{"condition":{"test":"datum.w==2","value":"#333"},"value":"#e2e2e2"}}},
{"data":{"name":"frame"},"transform":[{"calculate":"19.6*(datum.x+6)+15.2*(5-datum.y)","as":"X"},{"calculate":"19.6*(datum.x2+6)+15.2*(5-datum.y2)","as":"X2"},{"calculate":"207-5.3*(datum.x+6)+7.1*(5-datum.y)-151*(datum.h||0)","as":"Y"},{"calculate":"207-5.3*(datum.x2+6)+7.1*(5-datum.y2)-151*(datum.h2||0)","as":"Y2"}],"mark":{"type":"rule"},"encoding":{"x2":{"field":"X2"},"y2":{"field":"Y2"},"stroke":{"field":"t","type":"nominal","scale":{"domain":["g","a","z"],"range":["#e2e2e2","#333","#888"]},"legend":null},"strokeWidth":{"condition":{"test":"datum.t=='z'","value":2},"value":0.9}}},
{"data":{"name":"plane"},"transform":[{"filter":"datum.s==0"},{"calculate":"19.6*(datum.x+6)+15.2*(5-datum.y)","as":"X"},{"calculate":"106.3-5.3*(datum.x+6)+7.1*(5-datum.y)","as":"Y"}],"mark":{"type":"line","fill":"#262c14","stroke":"#262c14","strokeWidth":0.5},"encoding":{"detail":{"field":"g"},"order":{"field":"n"}}},
{"transform":[{"calculate":"datum.Y0-100.7-datum.zg*503.3","as":"Y"}],"mark":{"type":"line","strokeWidth":0.7},"encoding":{"detail":{"field":"k"},"order":{"field":"n"},"fillOpacity":{"condition":{"test":"abs(datum.mg)<0.004","value":0.45},"value":1},"fill":{"condition":{"test":"datum.mg==0","value":"#262c14"},"field":"mg","type":"quantitative","legend":null,"scale":{"domain":[-0.17,-0.1406,-0.1113,-0.0819,-0.0525,-0.0231,0.0063,0.0356,0.065],"range":["#352a87","#0363e1","#1485d4","#06a7c6","#38b99e","#92bf73","#d9ba56","#fcce2e","#f9fb0e"]}},"stroke":{"condition":{"test":"datum.mg==0","value":"#262c14"},"value":"black"}}},
{"data":{"name":"plane"},"transform":[{"filter":"datum.s==1"},{"calculate":"19.6*(datum.x+6)+15.2*(5-datum.y)","as":"X"},{"calculate":"106.3-5.3*(datum.x+6)+7.1*(5-datum.y)","as":"Y"}],"mark":{"type":"line","fill":"#262c14","stroke":"#262c14","strokeWidth":0.5},"encoding":{"detail":{"field":"g"},"order":{"field":"n"}}},
{"data":{"name":"zt"},"transform":[{"filter":"datum.q=='g'"},{"calculate":"-9","as":"X"},{"calculate":"207-151*datum.h","as":"Y"}],"mark":{"type":"text","align":"right","baseline":"middle","font":"Liberation Sans","fontSize":10.3,"color":"#404040"},"encoding":{"text":{"field":"l"}}},
{"data":{"name":"lab"},"transform":[{"calculate":"19.6*(datum.x+6)+15.2*(5-datum.y)+(datum.a=='x'?11:-14)","as":"X"},{"calculate":"218-5.3*(datum.x+6)+7.1*(5-datum.y)","as":"Y"}],"mark":{"type":"text","align":"center","baseline":"middle","font":"Liberation Sans","fontSize":10.3,"color":"#404040"},"encoding":{"text":{"field":"t"}}}
]},
{"width":346,"height":280,"title":{"text":"Pointwise Error for g̃′(vx, vy)","font":"Liberation Serif","fontSize":13,"fontWeight":"normal","color":"#222","offset":1},
"encoding":{"x":{"field":"X","type":"quantitative","scale":{"domain":[0,346],"nice":false},"axis":null},"y":{"field":"Y","type":"quantitative","scale":{"domain":[280,0],"nice":false},"axis":{"title":"Error","labels":false,"ticks":false,"domain":false,"grid":false,"titleX":-44,"titleY":131,"titleFont":"Liberation Sans","titleFontWeight":"normal","titleFontSize":11,"titleColor":"#444"}}},
"layer":[
{"data":{"name":"zt"},"transform":[{"filter":"datum.q=='e'"},{"calculate":"[0,1,2]","as":"w"},{"flatten":["w"]},{"calculate":"[0,196,0][datum.w]","as":"X"},{"calculate":"[196,348,-4][datum.w]","as":"X2"},{"calculate":"207-151*datum.h+[0,-53,0][datum.w]","as":"Y"},{"calculate":"207-151*datum.h+[-53,18,1][datum.w]","as":"Y2"}],"mark":{"type":"rule","strokeWidth":0.9},"encoding":{"x2":{"field":"X2"},"y2":{"field":"Y2"},"stroke":{"condition":{"test":"datum.w==2","value":"#333"},"value":"#e2e2e2"}}},
{"data":{"name":"frame"},"transform":[{"calculate":"19.6*(datum.x+6)+15.2*(5-datum.y)","as":"X"},{"calculate":"19.6*(datum.x2+6)+15.2*(5-datum.y2)","as":"X2"},{"calculate":"207-5.3*(datum.x+6)+7.1*(5-datum.y)-151*(datum.h||0)","as":"Y"},{"calculate":"207-5.3*(datum.x2+6)+7.1*(5-datum.y2)-151*(datum.h2||0)","as":"Y2"}],"mark":{"type":"rule","strokeWidth":0.9},"encoding":{"x2":{"field":"X2"},"y2":{"field":"Y2"},"stroke":{"field":"t","type":"nominal","scale":{"domain":["g","a","z"],"range":["#e2e2e2","#333","#444"]},"legend":null}}},
{"data":{"name":"plane"},"transform":[{"filter":"datum.s==0"},{"calculate":"19.6*(datum.x+6)+15.2*(5-datum.y)","as":"X"},{"calculate":"131.5-5.3*(datum.x+6)+7.1*(5-datum.y)","as":"Y"}],"mark":{"type":"line","fill":"#0d3532","stroke":"#0d3532","strokeWidth":0.5},"encoding":{"detail":{"field":"g"},"order":{"field":"n"}}},
{"transform":[{"calculate":"datum.Y0-75.5-datum.ze*1887.5","as":"Y"}],"mark":{"type":"line","strokeWidth":0.7},"encoding":{"detail":{"field":"k"},"order":{"field":"n"},"fillOpacity":{"condition":{"test":"abs(datum.me)<0.002","value":0.45},"value":1},"fill":{"condition":{"test":"datum.me==0","value":"#0d3532"},"field":"me","type":"quantitative","legend":null,"scale":{"domain":[-0.034,-0.0235,-0.013,-0.0025,0.008,0.0185,0.029,0.0395,0.05],"range":["#352a87","#0363e1","#1485d4","#06a7c6","#38b99e","#92bf73","#d9ba56","#fcce2e","#f9fb0e"]}},"stroke":{"condition":{"test":"datum.me==0","value":"#0d3532"},"value":"black"}}},
{"data":{"name":"plane"},"transform":[{"filter":"datum.s==1"},{"calculate":"19.6*(datum.x+6)+15.2*(5-datum.y)","as":"X"},{"calculate":"131.5-5.3*(datum.x+6)+7.1*(5-datum.y)","as":"Y"}],"mark":{"type":"line","fill":"#0d3532","stroke":"#0d3532","strokeWidth":0.5},"encoding":{"detail":{"field":"g"},"order":{"field":"n"}}},
{"data":{"name":"zt"},"transform":[{"filter":"datum.q=='e'"},{"calculate":"-9","as":"X"},{"calculate":"207-151*datum.h","as":"Y"}],"mark":{"type":"text","align":"right","baseline":"middle","font":"Liberation Sans","fontSize":10.3,"color":"#404040"},"encoding":{"text":{"field":"l"}}},
{"data":{"name":"lab"},"transform":[{"calculate":"19.6*(datum.x+6)+15.2*(5-datum.y)+(datum.a=='x'?11:-14)","as":"X"},{"calculate":"218-5.3*(datum.x+6)+7.1*(5-datum.y)","as":"Y"}],"mark":{"type":"text","align":"center","baseline":"middle","font":"Liberation Sans","fontSize":10.3,"color":"#404040"},"encoding":{"text":{"field":"t"}}}
]}
]}
